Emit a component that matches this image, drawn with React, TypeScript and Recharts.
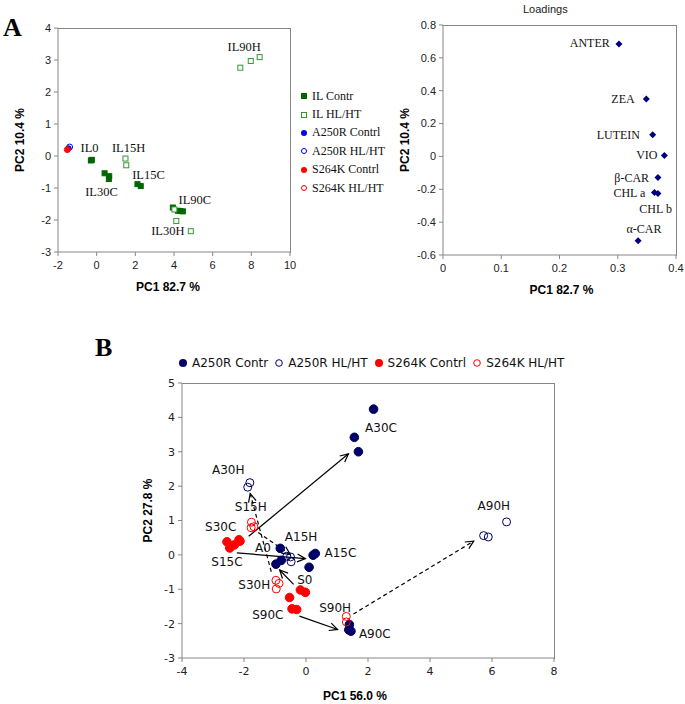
import { Legend, ReferenceLine, Scatter, ScatterChart, XAxis, YAxis } from 'recharts';

type Pt = [number, number];

// ---- panel A: sample scores (PC1, PC2) ----
const ilContr: Pt[] = [
  [-0.3, -0.14], [-0.25, -0.12],
  [0.41, -0.54], [0.65, -0.63], [0.63, -0.72],
  [2.11, -0.88], [2.28, -0.94],
  [3.94, -1.61], [4.2, -1.71], [4.33, -1.72], [4.46, -1.73],
];
const ilHlht: Pt[] = [
  [1.49, -0.08], [1.53, -0.29],
  [4.02, -1.67], [4.12, -2.03], [4.87, -2.35],
  [7.43, 2.76], [7.97, 2.97], [8.43, 3.09],
];
const a250ContrA: Pt[] = [[-1.45, 0.24]];
const a250HlhtA: Pt[] = [[-1.4, 0.28]];
const s264ContrA: Pt[] = [[-1.5, 0.2]];
const s264HlhtA: Pt[] = [[-1.52, 0.2]];
const groupNamesA = ['IL0', 'IL15H', 'IL30C', 'IL15C', 'IL90C', 'IL30H', 'IL90H'];
const groupLabelPC1A = [-0.37, 1.65, 0.25, 2.68, 5.08, 3.68, 7.63];
const groupLabelPC2A = [0.25, 0.25, -1.11, -0.58, -1.38, -2.35, 3.42];
const legendA = ['IL Contr', 'IL HL/HT', 'A250R Contrl', 'A250R HL/HT', 'S264K Contrl', 'S264K HL/HT'];
const ticksAx = [-2, 0, 2, 4, 6, 8, 10];
const ticksAy = [-3, -2, -1, 0, 1, 2, 3, 4];

// ---- panel A: loadings ----
const pigments = ['ANTER', 'ZEA', 'LUTEIN', 'VIO', 'β-CAR', 'CHL a', 'CHL b', 'α-CAR'];
const loadPC1 = [0.302, 0.349, 0.36, 0.38, 0.369, 0.363, 0.369, 0.335];
const loadPC2 = [0.684, 0.35, 0.132, 0.005, -0.129, -0.22, -0.226, -0.513];
const pigLabelPC1 = [0.252, 0.309, 0.301, 0.35, 0.324, 0.32, 0.365, 0.345];
const pigLabelPC2 = [0.692, 0.35, 0.132, 0.007, -0.129, -0.221, -0.322, -0.44];
const ticksLx = [0, 0.1, 0.2, 0.3, 0.4];
const ticksLy = [-0.6, -0.4, -0.2, 0, 0.2, 0.4, 0.6, 0.8];

// ---- panel B: mutants ----
const a250Contr: Pt[] = [
  [2.18, 4.24], [1.56, 3.42], [1.69, 3.0],
  [0.23, -0.01], [0.3, 0.04], [0.1, -0.36],
  [-0.83, 0.19], [-0.8, -0.16], [-0.97, -0.27],
  [1.4, -2.03], [1.45, -2.22], [1.38, -2.18],
];
const a250Hlht: Pt[] = [
  [-1.88, 1.97], [-1.81, 2.1],
  [-0.62, -0.04], [-0.5, -0.06], [-0.48, -0.2],
  [6.47, 0.96], [5.73, 0.56], [5.88, 0.52],
];
const s264Contr: Pt[] = [
  [-2.55, 0.38], [-2.46, 0.2], [-2.31, 0.29], [-2.16, 0.44], [-2.13, 0.4],
  [-0.18, -1.02], [-0.02, -1.09], [-0.53, -1.24],
  [-0.45, -1.57], [-0.3, -1.59],
];
const s264Hlht: Pt[] = [
  [-1.76, 0.95], [-1.77, 0.79], [-1.68, 0.82],
  [-0.97, -0.74], [-0.87, -0.83], [-0.96, -0.99],
  [1.3, -1.79], [1.3, -1.95],
];
const groupNamesB = ['A30C', 'A30H', 'S15H', 'S30C', 'A15H', 'A0', 'A15C', 'S15C', 'S0', 'S30H', 'S90C', 'S90H', 'A90C', 'A90H'];
const groupLabelPC1B = [2.42, -2.51, -1.78, -2.75, -0.16, -1.39, 1.11, -2.55, -0.04, -1.67, -1.23, 0.94, 2.22, 6.06];
const groupLabelPC2B = [3.7, 2.47, 1.4, 0.8, 0.51, 0.19, 0.06, -0.21, -0.72, -0.88, -1.74, -1.54, -2.3, 1.41];
// shifts between groups: [from PC1, from PC2, to PC1, to PC2]
const solidArrows = [
  [-1.85, 0.54, 1.37, 2.94],
  [-2.23, 0.06, -0.02, -0.11],
  [-0.4, -0.86, -0.85, -0.44],
  [-0.21, -1.78, 1.02, -2.17],
];
const dashedArrows = [
  [-1.12, -0.49, -1.8, 1.78],
  [-1.54, 0.65, -0.51, 0.01],
  [1.53, -1.72, 5.41, 0.4],
];
const legendB = ['A250R Contr', 'A250R HL/HT', 'S264K Contrl', 'S264K HL/HT'];
const ticksBx = [-4, -2, 0, 2, 4, 6, 8];
const ticksBy = [-3, -2, -1, 0, 1, 2, 3, 4, 5];

const toXY = (pts: Pt[]) => pts.map(([x, y]) => ({ x, y }));
const labelRows = (names: string[], xs: number[], ys: number[]) => names.map((name, i) => ({ name, x: xs[i], y: ys[i] }));

const SANS = 'Liberation Sans, Arial, sans-serif';
const SERIF = 'Liberation Serif, Times New Roman, serif';
const VERD = 'DejaVu Sans, Verdana, sans-serif';
const AXIS = '#868686';
const NAVY = '#000066';
const RED = '#ff0000';
const GREEN = '#006600';
const LGREEN = '#2f9a2f';

// layout of each chart: size, margins and axis sizes
const layA = { w: 400, h: 300, top: 28, right: 110, yW: 58, xH: 48 };
const layL = { w: 295, h: 300, top: 25, right: 9, yW: 53, xH: 45 };
const layB = { w: 470, h: 384, top: 63, right: 16, yW: 82, xH: 46 };

// top and right edges of the plot box, derived from the chart layout
function BoxEdges({ lay }: { lay: typeof layA }) {
  const w = lay.w - lay.yW - lay.right;
  const h = lay.h - lay.top - lay.xH;
  return (
    <div style={{
      position: 'absolute', left: lay.yW, top: lay.top - 0.5, width: w, height: h,
      borderTop: `1px solid ${AXIS}`, borderRight: `1px solid ${AXIS}`, pointerEvents: 'none',
    }} />
  );
}

const square = (fill: string, stroke: string, s: number) => (p: any) => (
  <rect x={p.cx - s / 2} y={p.cy - s / 2} width={s} height={s} fill={fill} stroke={stroke} strokeWidth={1} />
);
const circle = (fill: string, stroke: string, r: number, sw = 1) => (p: any) => (
  <circle cx={p.cx} cy={p.cy} r={r} fill={fill} stroke={stroke} strokeWidth={sw} />
);
const diamond = (p: any) => (
  <polygon points={`${p.cx},${p.cy - 3.5} ${p.cx + 3.5},${p.cy} ${p.cx},${p.cy + 3.5} ${p.cx - 3.5},${p.cy}`} fill="#000080" />
);
const textShape = (font: string, size: number) => (p: any) => (
  <text x={p.cx} y={p.cy} textAnchor="middle" dominantBaseline="central" fontFamily={font} fontSize={size} fill="#111">
    {p.payload.name}
  </text>
);
const arrowShape = (dashed: boolean) => (p: any) => {
  const { x1, y1, x2, y2 } = p;
  const a = Math.atan2(y2 - y1, x2 - x1);
  const len = 9;
  const h1 = `${x2 - len * Math.cos(a - 0.45)},${y2 - len * Math.sin(a - 0.45)}`;
  const h2 = `${x2 - len * Math.cos(a + 0.45)},${y2 - len * Math.sin(a + 0.45)}`;
  return (
    <g>
      <line x1={x1} y1={y1} x2={x2} y2={y2} stroke="#000" strokeWidth={1.2} strokeDasharray={dashed ? '4 3' : undefined} />
      <polyline points={`${h1} ${x2},${y2} ${h2}`} fill="none" stroke="#000" strokeWidth={1.2} />
    </g>
  );
};

const tickA = { fill: '#222', fontSize: 11, fontFamily: SANS };
const tickB = { fill: '#222', fontSize: 11, fontFamily: VERD };
const titleStyle = { fill: '#000', fontSize: 12, fontWeight: 700, fontFamily: SANS };

const markersA = [
  <svg width={8} height={8}><rect x={1} y={1} width={6} height={6} fill={GREEN} /></svg>,
  <svg width={8} height={8}><rect x={1.5} y={1.5} width={5} height={5} fill="none" stroke={LGREEN} /></svg>,
  <svg width={8} height={8}><circle cx={4} cy={4} r={3} fill="#0000ff" /></svg>,
  <svg width={8} height={8}><circle cx={4} cy={4} r={2.5} fill="none" stroke="#0000ff" /></svg>,
  <svg width={8} height={8}><circle cx={4} cy={4} r={3} fill={RED} /></svg>,
  <svg width={8} height={8}><circle cx={4} cy={4} r={2.5} fill="none" stroke={RED} /></svg>,
];
const markersB = [
  <svg width={10} height={10}><circle cx={5} cy={5} r={4} fill={NAVY} /></svg>,
  <svg width={10} height={10}><circle cx={5} cy={5} r={3.3} fill="none" stroke={NAVY} /></svg>,
  <svg width={10} height={10}><circle cx={5} cy={5} r={4} fill={RED} /></svg>,
  <svg width={10} height={10}><circle cx={5} cy={5} r={3.3} fill="none" stroke={RED} /></svg>,
];

function ScoresA() {
  return (
    <ScatterChart width={layA.w} height={layA.h} margin={{ top: layA.top, right: layA.right, bottom: 0, left: 0 }}>
      <XAxis type="number" dataKey="x" domain={[-2, 10]} ticks={ticksAx} interval={0} height={layA.xH}
        stroke={AXIS} tickSize={4} tickMargin={5} tick={tickA}
        label={{ value: 'PC1 82.7 %', position: 'center', dx: -6, dy: 11, style: titleStyle }} />
      <YAxis type="number" dataKey="y" domain={[-3, 4]} ticks={ticksAy} interval={0} width={layA.yW}
        stroke={AXIS} tickSize={4} tickMargin={3} tick={tickA}
        label={{ value: 'PC2 10.4 %', angle: -90, position: 'center', dx: -9, style: titleStyle }} />
      <Scatter data={toXY(ilContr)} shape={square(GREEN, GREEN, 5)} isAnimationActive={false} />
      <Scatter data={toXY(ilHlht)} shape={square('#fff', LGREEN, 5)} isAnimationActive={false} />
      <Scatter data={toXY(a250ContrA)} shape={circle('#0000ff', '#0000ff', 2.5)} isAnimationActive={false} />
      <Scatter data={toXY(a250HlhtA)} shape={circle('none', '#0000ff', 3)} isAnimationActive={false} />
      <Scatter data={toXY(s264ContrA)} shape={circle(RED, RED, 2.5)} isAnimationActive={false} />
      <Scatter data={toXY(s264HlhtA)} shape={circle('none', RED, 3)} isAnimationActive={false} />
      <Scatter data={labelRows(groupNamesA, groupLabelPC1A, groupLabelPC2A)} shape={textShape(SERIF, 12.5)} isAnimationActive={false} />
      <Legend layout="vertical" align="center" verticalAlign="middle"
        wrapperStyle={{ left: 298, top: 87, width: 100 }}
        content={() => (
          <div style={{ fontFamily: SERIF, fontSize: 12, color: '#111' }}>
            {legendA.map((name, i) => (
              <div key={name} style={{ display: 'flex', alignItems: 'center', height: 18.4 }}>
                <span style={{ width: 12, display: 'flex', justifyContent: 'center' }}>{markersA[i]}</span>
                <span style={{ marginLeft: 2 }}>{name}</span>
              </div>
            ))}
          </div>
        )} />
    </ScatterChart>
  );
}

function Loadings() {
  return (
    <ScatterChart width={layL.w} height={layL.h} margin={{ top: layL.top, right: layL.right, bottom: 0, left: 0 }}>
      <XAxis type="number" dataKey="x" domain={[0, 0.4]} ticks={ticksLx} interval={0} height={layL.xH}
        stroke={AXIS} tickSize={4} tickMargin={5} tick={tickA}
        label={{ value: 'PC1 82.7 %', position: 'center', dx: 2, dy: 12, style: titleStyle }} />
      <YAxis type="number" dataKey="y" domain={[-0.6, 0.8]} ticks={ticksLy} interval={0} width={layL.yW}
        stroke={AXIS} tickSize={4} tickMargin={3} tick={tickA}
        label={{ value: 'PC2 10.4 %', angle: -90, position: 'center', dx: -12, style: titleStyle }} />
      <Scatter data={labelRows(pigments, loadPC1, loadPC2)} shape={diamond} isAnimationActive={false} />
      <Scatter data={labelRows(pigments, pigLabelPC1, pigLabelPC2)} shape={textShape(SERIF, 12)} isAnimationActive={false} />
    </ScatterChart>
  );
}

function Mutants() {
  return (
    <ScatterChart width={layB.w} height={layB.h} margin={{ top: layB.top, right: layB.right, bottom: 0, left: 0 }}>
      <XAxis type="number" dataKey="x" domain={[-4, 8]} ticks={ticksBx} interval={0} height={layB.xH}
        stroke={AXIS} tickSize={4} tickMargin={5} tick={tickB}
        label={{ value: 'PC1 56.0 %', position: 'center', dx: -13, dy: 15, style: titleStyle }} />
      <YAxis type="number" dataKey="y" domain={[-3, 5]} ticks={ticksBy} interval={0} width={layB.yW}
        stroke={AXIS} tickSize={4} tickMargin={3} tick={tickB}
        label={{ value: 'PC2 27.8 %', angle: -90, position: 'center', dx: 7, dy: -10, style: titleStyle }} />
      {solidArrows.map((a, i) => (
        <ReferenceLine key={`s${i}`} segment={[{ x: a[0], y: a[1] }, { x: a[2], y: a[3] }]} shape={arrowShape(false)} ifOverflow="visible" />
      ))}
      {dashedArrows.map((a, i) => (
        <ReferenceLine key={`d${i}`} segment={[{ x: a[0], y: a[1] }, { x: a[2], y: a[3] }]} shape={arrowShape(true)} ifOverflow="visible" />
      ))}
      <Scatter data={toXY(a250Contr)} shape={circle(NAVY, NAVY, 4.3)} isAnimationActive={false} />
      <Scatter data={toXY(a250Hlht)} shape={circle('none', NAVY, 4)} isAnimationActive={false} />
      <Scatter data={toXY(s264Contr)} shape={circle(RED, RED, 4.3)} isAnimationActive={false} />
      <Scatter data={toXY(s264Hlht)} shape={circle('none', RED, 4)} isAnimationActive={false} />
      <Scatter data={labelRows(groupNamesB, groupLabelPC1B, groupLabelPC2B)} shape={textShape(VERD, 12)} isAnimationActive={false} />
      <Legend layout="horizontal" align="center" verticalAlign="middle"
        wrapperStyle={{ left: 78, top: 36, width: 400 }}
        content={() => (
          <div style={{ display: 'flex', alignItems: 'center', fontFamily: VERD, fontSize: 12, color: '#111' }}>
            {legendB.map((name, i) => (
              <span key={name} style={{ display: 'flex', alignItems: 'center', marginRight: 6 }}>
                {markersB[i]}
                <span style={{ marginLeft: 4 }}>{name}</span>
              </span>
            ))}
          </div>
        )} />
    </ScatterChart>
  );
}

export default function App() {
  return (
    <div style={{ position: 'absolute', left: 0, top: 0, width: 685, height: 704, background: '#fff' }}>
      <div style={{ position: 'absolute', left: 0, top: 0 }}><ScoresA /><BoxEdges lay={layA} /></div>
      <div style={{ position: 'absolute', left: 390, top: 0 }}><Loadings /><BoxEdges lay={layL} /></div>
      <div style={{ position: 'absolute', left: 100, top: 320 }}><Mutants /><BoxEdges lay={layB} /></div>
      <div style={{ position: 'absolute', left: 3, top: 14, fontFamily: SERIF, fontWeight: 700, fontSize: 26, lineHeight: '28px' }}>A</div>
      <div style={{ position: 'absolute', left: 95, top: 334, fontFamily: SERIF, fontWeight: 700, fontSize: 26, lineHeight: '28px' }}>B</div>
      <div style={{ position: 'absolute', left: 523, top: 3, fontFamily: SANS, fontSize: 11, color: '#222' }}>Loadings</div>
    </div>
  );
}
